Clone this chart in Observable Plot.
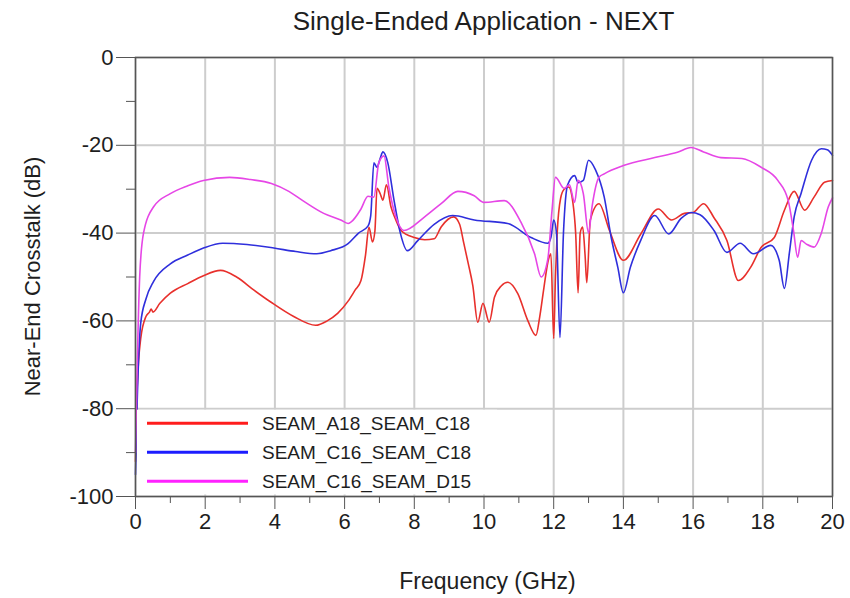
<!DOCTYPE html>
<html>
<head>
<meta charset="utf-8">
<script src="https://cdn.jsdelivr.net/npm/d3@7"></script>
<script src="https://cdn.jsdelivr.net/npm/@observablehq/plot@0.6"></script>
<style>
  html, body { margin: 0; padding: 0; background: #fff; }
  svg { display: block; }
</style>
</head>
<body>
<div id="chart"></div>
<script>
// Near-end crosstalk, single-ended application
const titleText = "Single-Ended Application - NEXT";
const xLabelText = "Frequency (GHz)";
const yLabelText = "Near-End Crosstalk (dB)";

const seriesNames = ["SEAM_A18_SEAM_C18", "SEAM_C16_SEAM_C18", "SEAM_C16_SEAM_D15"];
const seriesColors = ["#e8302c", "#2f2fdc", "#e646e6"];
const legendColors = ["#ff1c1c", "#1c1cff", "#ff22ff"];

const xTicks = [0, 2, 4, 6, 8, 10, 12, 14, 16, 18, 20];
const xMinorTicks = [1, 3, 5, 7, 9, 11, 13, 15, 17, 19];
const yTicks = [-100, -80, -60, -40, -20, 0];
const yMinorTicks = [-90, -70, -50, -30, -10];

// SEAM_A18_SEAM_C18
const redFreq = [0, 0.05, 0.15, 0.3, 0.4, 0.45, 0.5, 0.7, 1.0, 1.5, 1.95, 2.44, 2.9, 3.4, 3.88, 4.54, 5.17, 5.5, 5.8, 6.1, 6.3, 6.47, 6.6, 6.7, 6.8, 6.87, 6.93, 7.02, 7.1, 7.2, 7.33, 7.47, 7.62, 8.0, 8.3, 8.57, 8.77, 9.13, 9.3, 9.42, 9.55, 9.68, 9.82, 9.97, 10.15, 10.3, 10.5, 10.68, 10.97, 11.26, 11.49, 11.6, 11.72, 11.85, 11.92, 12.0, 12.05, 12.1, 12.2, 12.3, 12.43, 12.55, 12.63, 12.7, 12.76, 12.83, 12.9, 12.95, 13.05, 13.3, 13.6, 14.0, 14.5, 15.0, 15.38, 15.75, 16.0, 16.3, 16.6, 16.97, 17.3, 17.65, 17.95, 18.33, 18.62, 18.9, 19.2, 19.47, 19.77, 20.0];
const redDb = [-92, -75, -64, -59, -58, -57.3, -58, -56, -53.7, -51.5, -49.7, -48.5, -50, -53, -55.7, -59, -61, -60, -58.3, -55.5, -53, -50.8, -45, -38.7, -42, -39.5, -29.8, -31, -32.5, -29, -34, -37, -39.4, -41, -41.5, -41.3, -38.6, -36.3, -38, -42.3, -47, -52, -60.3, -56, -60.3, -54.6, -52, -51.2, -53.8, -60, -63.3, -59, -52.4, -46, -44.7, -64, -50, -40, -32, -30, -29.5, -33, -40, -53.6, -40, -38.6, -45, -51.3, -37, -33.3, -39.4, -46.2, -40.2, -34.5, -37, -35.5, -35.3, -33.3, -36.5, -41.7, -50.8, -47.8, -43.3, -41, -34.8, -30.5, -34.8, -31.8, -28.4, -28];

// SEAM_C16_SEAM_C18
const blueFreq = [0, 0.05, 0.15, 0.3, 0.52, 1.0, 1.5, 1.95, 2.5, 3.2, 3.97, 4.6, 5.2, 5.6, 6.1, 6.4, 6.67, 6.75, 6.84, 6.93, 7.02, 7.1, 7.24, 7.42, 7.6, 7.8, 8.1, 8.57, 9.1, 9.72, 10.68, 11.35, 11.83, 11.92, 12.0, 12.08, 12.18, 12.28, 12.4, 12.6, 12.7, 12.85, 13.0, 13.2, 13.45, 13.65, 13.84, 14.0, 14.2, 14.5, 14.9, 15.3, 15.65, 15.94, 16.2, 16.6, 16.97, 17.35, 17.73, 18.23, 18.47, 18.62, 18.76, 18.9, 19.1, 19.4, 19.68, 19.85, 20.0];
const blueDb = [-95, -78, -60.5, -55, -51, -47, -45, -43.4, -42.3, -42.6, -43.4, -44.2, -44.7, -44, -42.4, -40, -38.4, -36, -24, -25, -23, -21.5, -24, -32.6, -40, -44, -41.7, -38, -36, -37, -37.8, -41, -42.3, -41, -37, -40, -63.8, -40, -29, -26.9, -28.5, -28, -23.4, -25.6, -31.8, -41, -47.8, -53.6, -47.8, -41.6, -36, -40.2, -36.7, -35.3, -35.8, -39.4, -44.4, -42.3, -44.7, -42.8, -46.2, -52.6, -44.7, -36.3, -30.9, -23.4, -20.8, -21, -22.3];

// SEAM_C16_SEAM_D15
const magentaFreq = [0, 0.05, 0.12, 0.23, 0.52, 1.0, 1.5, 1.95, 2.7, 3.3, 3.9, 4.4, 4.8, 5.4, 5.89, 6.1, 6.18, 6.47, 6.67, 6.84, 6.98, 7.13, 7.27, 7.47, 7.7, 8.28, 8.77, 9.25, 9.72, 10.0, 10.58, 11.06, 11.45, 11.64, 11.83, 11.95, 12.05, 12.3, 12.45, 12.6, 12.7, 12.85, 13.0, 13.1, 13.3, 13.45, 14.0, 14.9, 15.55, 15.94, 16.3, 16.8, 17.4, 17.95, 18.43, 18.73, 18.88, 19.0, 19.1, 19.25, 19.47, 19.68, 19.88, 20.0];
const magentaDb = [-90, -70, -50, -40, -34, -31, -29.2, -28, -27.3, -27.8, -28.7, -30.5, -32.6, -35.5, -37, -37.8, -37.5, -34.5, -31.6, -31.8, -24, -22.4, -29.5, -36.3, -39.4, -36.4, -33.3, -30.5, -31.5, -33, -32.6, -37.5, -44.7, -50, -46, -35, -27.3, -29.8, -29, -33, -28, -31, -40, -34, -27.3, -26.5, -24.6, -22.8, -21.6, -20.5, -21.5, -22.8, -23, -25, -28, -32.6, -39.4, -45.5, -41.7, -42.5, -43.2, -40, -34, -32];

const seriesData = [
  [redFreq, redDb],
  [blueFreq, blueDb],
  [magentaFreq, magentaDb]
];

const rows = seriesData.flatMap(([freq, db], i) =>
  freq.map((f, j) => ({series: seriesNames[i], freq: f, db: db[j]}))
);

const W = 850, H = 598;
const fontFamily = "'Liberation Sans', Arial, sans-serif";
const textColor = "#1e1e1e";
const plainNumber = d => String(d);  // ASCII hyphen for negative values

const plot = Plot.plot({
  width: W,
  height: H,
  marginLeft: 135,
  marginRight: 18,
  marginTop: 57,
  marginBottom: 102,
  style: {fontFamily, color: textColor, background: "#fff", overflow: "visible"},
  x: {domain: [0, 20], label: null},
  y: {domain: [-100, 0], label: null},
  color: {domain: seriesNames, range: seriesColors},
  marks: [
    Plot.gridX(xTicks, {stroke: "#cdcdcd", strokeOpacity: 1, strokeWidth: 2}),
    Plot.gridY(yTicks, {stroke: "#cdcdcd", strokeOpacity: 1, strokeWidth: 2}),
    Plot.line(rows, {x: "freq", y: "db", z: "series", stroke: "series", strokeWidth: 1.6, curve: "monotone-x"}),
    Plot.frame({stroke: "#555", strokeWidth: 1.5}),
    Plot.axisX(xTicks, {tickSize: 13, tickPadding: 4, fontSize: 22, stroke: "#555", fill: textColor, tickFormat: plainNumber}),
    Plot.axisX(xMinorTicks, {tickSize: 7, text: null, stroke: "#555"}),
    Plot.axisY(yTicks, {tickSize: 19, tickPadding: 3, fontSize: 22, stroke: "#555", fill: textColor, tickFormat: plainNumber}),
    Plot.axisY(yMinorTicks, {tickSize: 9, text: null, stroke: "#555"})
  ]
});

document.getElementById("chart").appendChild(plot);

const svg = d3.select(plot);
const xs = plot.scale("x"), ys = plot.scale("y");
const plotLeft = xs.apply(0), plotRight = xs.apply(20);
const plotTop = ys.apply(0), plotBottom = ys.apply(-100);
const centerX = (plotLeft + plotRight) / 2;

// Title and axis titles
svg.append("text")
  .attr("x", centerX).attr("y", 30)
  .attr("text-anchor", "middle")
  .attr("font-family", fontFamily).attr("font-size", 26)
  .attr("fill", textColor)
  .text(titleText);

svg.append("text")
  .attr("x", centerX + 4).attr("y", 589)
  .attr("text-anchor", "middle")
  .attr("font-family", fontFamily).attr("font-size", 23)
  .attr("fill", textColor)
  .text(xLabelText);

svg.append("text")
  .attr("transform", `translate(40,${(plotTop + plotBottom) / 2}) rotate(-90)`)
  .attr("text-anchor", "middle")
  .attr("font-family", fontFamily).attr("font-size", 22)
  .attr("fill", textColor)
  .text(yLabelText);

// Legend box in the lower-left corner of the plot area
const legendTop = ys.apply(-80);
const legend = svg.append("g");
legend.append("rect")
  .attr("x", plotLeft + 2).attr("y", legendTop + 1.5)
  .attr("width", 360).attr("height", plotBottom - legendTop - 3)
  .attr("fill", "#fff");

seriesNames.forEach((name, i) => {
  const ly = legendTop + 15 + i * 29;
  legend.append("line")
    .attr("x1", plotLeft + 12).attr("x2", plotLeft + 113)
    .attr("y1", ly).attr("y2", ly)
    .attr("stroke", legendColors[i]).attr("stroke-width", 3);
  legend.append("text")
    .attr("x", plotLeft + 127).attr("y", ly)
    .attr("dy", "0.36em")
    .attr("text-anchor", "start")
    .attr("font-family", fontFamily).attr("font-size", 19)
    .attr("fill", textColor)
    .text(name);
});
</script>
</body>
</html>
